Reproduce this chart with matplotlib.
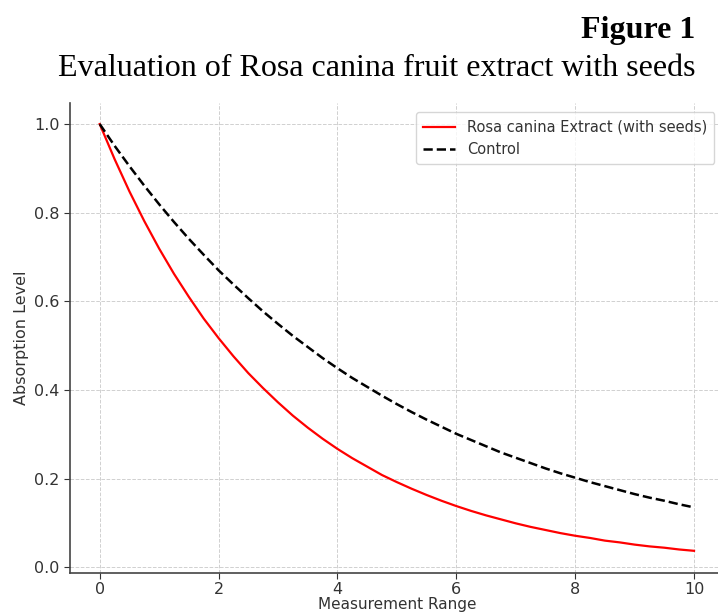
import matplotlib
matplotlib.use("Agg")
import matplotlib.pyplot as plt

x_vals = [0, 0.25, 0.5, 0.75, 1, 1.25, 1.5, 1.75, 2, 2.25, 2.5, 2.75, 3, 3.25, 3.5, 3.75,
          4, 4.25, 4.5, 4.75, 5, 5.25, 5.5, 5.75, 6, 6.25, 6.5, 6.75, 7, 7.25, 7.5, 7.75,
          8, 8.25, 8.5, 8.75, 9, 9.25, 9.5, 9.75, 10]
extract_vals = [1.000, 0.921, 0.848, 0.781, 0.719, 0.662, 0.610, 0.561, 0.517, 0.476, 0.438,
                0.404, 0.372, 0.342, 0.315, 0.290, 0.267, 0.246, 0.227, 0.208, 0.192, 0.177,
                0.163, 0.150, 0.138, 0.127, 0.117, 0.108, 0.099, 0.091, 0.084, 0.077, 0.071,
                0.066, 0.060, 0.056, 0.051, 0.047, 0.044, 0.040, 0.037]
control_vals = [1.000, 0.951, 0.905, 0.861, 0.819, 0.779, 0.741, 0.705, 0.670, 0.638, 0.607,
                0.577, 0.549, 0.522, 0.497, 0.472, 0.449, 0.427, 0.407, 0.387, 0.368, 0.350,
                0.333, 0.317, 0.301, 0.287, 0.273, 0.259, 0.247, 0.235, 0.223, 0.212, 0.202,
                0.192, 0.183, 0.174, 0.165, 0.157, 0.150, 0.142, 0.135]
x_ticks = [0, 2, 4, 6, 8, 10]
y_ticks = [0.0, 0.2, 0.4, 0.6, 0.8, 1.0]

fig = plt.figure(figsize=(7.18, 6.13), dpi=100)
ax = fig.add_axes([0.0975, 0.0653, 0.9105, 0.767])

ax.plot(x_vals, extract_vals, color="red", lw=1.6, label="Rosa canina Extract (with seeds)")
ax.plot(x_vals, control_vals, color="black", lw=1.8, ls="--", label="Control")

ax.set_xticks(x_ticks)
ax.set_yticks(y_ticks)
ax.set_xlim(-0.5, 10.5)
ax.set_ylim(-0.013, 1.048)
ax.grid(True, ls="--", color="#d0d0d0", lw=0.7)
for s in ["top", "right"]:
    ax.spines[s].set_visible(False)
for s in ["left", "bottom"]:
    ax.spines[s].set_color("#444444")
    ax.spines[s].set_linewidth(1.2)
ax.tick_params(colors="#333333", labelsize=11.5, length=4)
ax.tick_params(axis="x", pad=2.5)
ax.set_xlabel("Measurement Range", fontsize=11, color="#333333", labelpad=0)
ax.set_ylabel("Absorption Level", fontsize=11.5, color="#333333")

leg = ax.legend(loc="upper right", bbox_to_anchor=(0.997, 0.995), fontsize=10.5, frameon=True,
                handlelength=2.2, borderpad=0.5, prop={"family": "DejaVu Sans", "size": 10.5})
for t in leg.get_texts():
    t.set_color("#333333")
leg.get_frame().set_edgecolor("#cccccc")

fig.text(0.968, 0.950, "Figure 1", ha="right", va="center", fontsize=23,
         fontweight="bold", family="Liberation Serif")
fig.text(0.968, 0.889, "Evaluation of Rosa canina fruit extract with seeds", ha="right",
         va="center", fontsize=23, family="Liberation Serif")

fig.savefig("out.png", dpi=100)
